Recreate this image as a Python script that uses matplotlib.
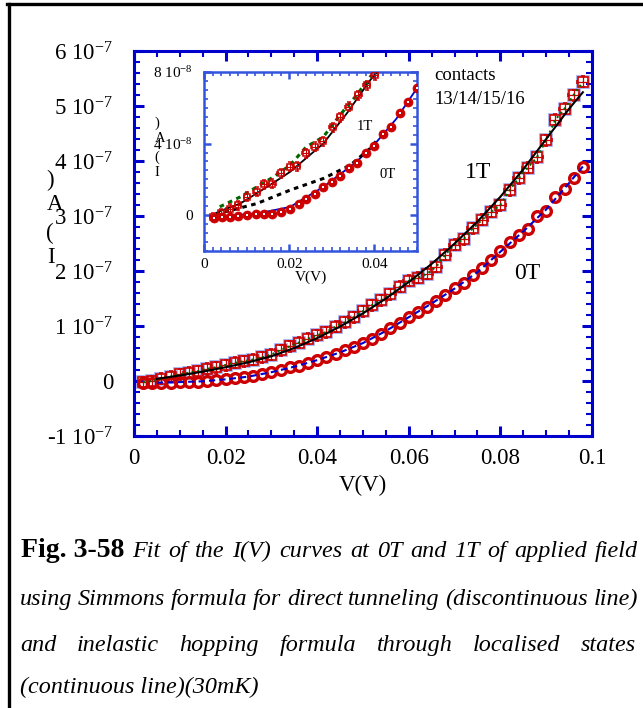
import matplotlib
matplotlib.use('Agg')
import numpy as np
import matplotlib.pyplot as plt
from matplotlib.ticker import MultipleLocator
from matplotlib.lines import Line2D

plt.rcParams['font.family'] = ['Liberation Serif', 'DejaVu Serif']
plt.rcParams['mathtext.fontset'] = 'custom'
plt.rcParams['mathtext.rm'] = 'Liberation Serif'
plt.rcParams['mathtext.default'] = 'regular'

W, H = 643, 708
RED = '#cc0000'
BLUE = '#0000cc'
LBLUE = '#3355dd'
GREEN = '#006600'

# ---- main panel, current in units of 1e-7 A
v_data = [0.002, 0.004, 0.006, 0.008, 0.010, 0.012, 0.014, 0.016, 0.018, 0.020,
          0.022, 0.024, 0.026, 0.028, 0.030, 0.032, 0.034, 0.036, 0.038, 0.040,
          0.042, 0.044, 0.046, 0.048, 0.050, 0.052, 0.054, 0.056, 0.058, 0.060,
          0.062, 0.064, 0.066, 0.068, 0.070, 0.072, 0.074, 0.076, 0.078, 0.080,
          0.082, 0.084, 0.086, 0.088, 0.090, 0.092, 0.094, 0.096, 0.098]
i_1t = [-0.02, 0.00, 0.04, 0.08, 0.12, 0.15, 0.18, 0.22, 0.25, 0.29,
        0.33, 0.36, 0.39, 0.43, 0.48, 0.56, 0.63, 0.70, 0.77, 0.83,
        0.89, 0.99, 1.07, 1.16, 1.27, 1.38, 1.47, 1.58, 1.71, 1.82,
        1.88, 1.95, 2.08, 2.30, 2.48, 2.58, 2.78, 2.93, 3.08, 3.20,
        3.47, 3.69, 3.88, 4.07, 4.38, 4.75, 4.95, 5.20, 5.44]
i_0t = [-0.04, -0.04, -0.03, -0.03, -0.02, -0.02, -0.01, 0.00, 0.01, 0.03,
        0.05, 0.07, 0.09, 0.13, 0.17, 0.20, 0.25, 0.28, 0.33, 0.38,
        0.44, 0.49, 0.56, 0.62, 0.69, 0.77, 0.86, 0.96, 1.06, 1.16,
        1.26, 1.35, 1.45, 1.56, 1.69, 1.79, 1.92, 2.05, 2.20, 2.36,
        2.53, 2.66, 2.76, 3.00, 3.10, 3.35, 3.50, 3.69, 3.89]
v_fit = [0.005, 0.01, 0.015, 0.02, 0.025, 0.03, 0.035, 0.04, 0.045, 0.05,
         0.055, 0.06, 0.065, 0.07, 0.075, 0.08, 0.085, 0.09, 0.095, 0.098]
fit_1t = [0.04, 0.10, 0.17, 0.25, 0.34, 0.45, 0.60, 0.78, 0.99, 1.23,
          1.50, 1.80, 2.13, 2.50, 2.90, 3.35, 3.85, 4.40, 4.95, 5.25]
fit_0t = [-0.03, -0.02, -0.005, 0.03, 0.08, 0.16, 0.26, 0.38, 0.52, 0.69,
          0.91, 1.16, 1.41, 1.68, 1.98, 2.35, 2.72, 3.12, 3.60, 3.90]

# ---- inset, current in units of 1e-8 A
vin_1t = [0.0021, 0.004, 0.006, 0.008, 0.0101, 0.0124, 0.0141, 0.016, 0.018, 0.0202,
          0.0218, 0.0239, 0.026, 0.0279, 0.0302, 0.032, 0.034, 0.0362, 0.0382, 0.0401]
iin_1t = [-0.10, 0.10, 0.35, 0.56, 1.02, 1.30, 1.73, 1.77, 2.33, 2.70,
          2.74, 3.45, 3.82, 4.13, 4.90, 5.46, 6.05, 6.70, 7.26, 7.82]
vin_green = [0.0037, 0.0085, 0.0124, 0.0163, 0.0202, 0.024, 0.028, 0.0319, 0.0358, 0.0393]
iin_green = [0.47, 1.02, 1.58, 2.14, 2.79, 3.82, 4.37, 5.59, 6.70, 7.82]
vin_fit1 = [0.0033, 0.0085, 0.0148, 0.0202, 0.028, 0.0335, 0.039, 0.041]
iin_fit1 = [0.19, 0.65, 1.58, 2.42, 4.00, 5.68, 7.54, 8.10]
vin_0t = [0.0023, 0.0043, 0.006, 0.008, 0.0101, 0.0123, 0.0141, 0.016, 0.018, 0.0202,
          0.0222, 0.024, 0.026, 0.028, 0.030, 0.032, 0.034, 0.036, 0.038, 0.040,
          0.042, 0.044, 0.046, 0.048, 0.050]
iin_0t = [-0.13, -0.10, -0.10, -0.04, 0.00, 0.06, 0.09, 0.09, 0.19, 0.37,
          0.65, 0.88, 1.17, 1.58, 1.86, 2.18, 2.61, 2.92, 3.45, 3.85,
          4.52, 4.93, 5.72, 6.33, 7.11]
vin_dash0 = [0.0027, 0.005, 0.0124, 0.0202, 0.028, 0.0343, 0.039, 0.041]
iin_dash0 = [0.09, 0.19, 0.65, 1.40, 2.05, 2.79, 3.73, 4.30]
vin_fit0 = [0.0016, 0.0124, 0.0202, 0.028, 0.0358, 0.0405, 0.0452, 0.0502]
iin_fit0 = [-0.10, 0.09, 0.46, 1.58, 2.98, 4.09, 5.40, 7.17]

yt_main = [-1, 0, 1, 2, 3, 4, 5, 6]
yt_in = [0, 4, 8]

fig = plt.figure(figsize=(W / 100, H / 100), dpi=100)


def box(x0, y0, x1, y1):
    return [x0 / W, 1 - y1 / H, (x1 - x0) / W, (y1 - y0) / H]


def style_axes(ax, color, lw, maj, mino):
    for s in ax.spines.values():
        s.set_color(color)
        s.set_linewidth(lw)
    ax.tick_params(which='both', direction='in', top=True, right=True, color=color)
    ax.tick_params(which='major', length=maj[0], width=maj[1])
    ax.tick_params(which='minor', length=mino[0], width=mino[1])


# main axes
ax = fig.add_axes(box(134, 51, 592, 436))
v = np.array(v_data)
ax.plot(v_fit, np.array(fit_0t) * 1e-7, color=BLUE, lw=1.5, ls=(0, (3, 2)), zorder=3)
ax.plot(v, np.array(i_0t) * 1e-7, 'o', ms=7, mfc='none', mec=RED, mew=2.4, zorder=2)
ax.plot(v, np.array(i_1t) * 1e-7, 's', ms=8, mfc='none', mec='#a0a8ee', mew=1.2, zorder=1)
ax.errorbar(v, np.array(i_1t) * 1e-7, xerr=0.0012, yerr=0.1e-7, fmt='s', ms=6.5,
            mfc='none', mec=RED, mew=1.2, ecolor=RED, elinewidth=0.9, capsize=1.5, zorder=2)
ax.plot(v, np.array(i_1t) * 1e-7, ':', color=GREEN, lw=1.5, zorder=3)
ax.plot(v_fit, np.array(fit_1t) * 1e-7, '-', color='black', lw=1.5, zorder=4)

ax.set_xlim(0, 0.1)
ax.set_ylim(-1e-7, 6e-7)
ax.set_xticks([0, 0.02, 0.04, 0.06, 0.08, 0.1], ['0', '0.02', '0.04', '0.06', '0.08', '0.1'])
ax.set_yticks([t * 1e-7 for t in yt_main],
              ['0' if t == 0 else '%d 10$^{-7}$' % t for t in yt_main])
ax.xaxis.set_minor_locator(MultipleLocator(0.005))
ax.yaxis.set_minor_locator(MultipleLocator(0.2e-7))
style_axes(ax, BLUE, 2.2, (7, 2.2), (4, 1.5))
ax.tick_params(axis='y', which='major', pad=15, labelsize=16.5)
ax.tick_params(axis='x', which='major', pad=9, labelsize=16.5)
ax.set_xlabel('V(V)', fontsize=16.5, labelpad=4)

ax.text(478 / W, 1 - 172 / H, '1T', transform=fig.transFigure, fontsize=17, ha='center', va='center')
ax.text(527 / W, 1 - 274 / H, '0T', transform=fig.transFigure, fontsize=17, ha='center', va='center')
fig.text(434 / W, 1 - 75 / H, 'contacts', fontsize=13.5, ha='left', va='center')
fig.text(434 / W, 1 - 99 / H, '13/14/15/16', fontsize=13.5, ha='left', va='center')

for ch, (px, py) in zip(')A(I', [(50, 180), (55, 204), (50, 233), (51, 257)]):
    fig.text(px / W, 1 - py / H, ch, fontsize=16.5, ha='center', va='center')

# inset
axi = fig.add_axes(box(204, 72, 417, 251))
axi.set_facecolor('white')
axi.plot(vin_fit0, np.array(iin_fit0) * 1e-8, '-', color=BLUE, lw=1.3, zorder=2)
axi.plot(vin_dash0, np.array(iin_dash0) * 1e-8, ls=(0, (1.5, 1.5)), color='black', lw=2.2, zorder=3)
axi.plot(vin_0t, np.array(iin_0t) * 1e-8, 'o', ms=6.5, mfc=RED, mec=RED, mew=0.5, zorder=4)
axi.plot(vin_0t, np.array(iin_0t) * 1e-8, 's', ms=1.6, mfc='white', mec='white', mew=0, zorder=5)
axi.plot(vin_green, np.array(iin_green) * 1e-8, ls=(0, (1.5, 1.5)), color=GREEN, lw=2.2, zorder=2)
axi.plot(vin_fit1, np.array(iin_fit1) * 1e-8, '-', color='black', lw=1.3, zorder=3)
axi.errorbar(vin_1t, np.array(iin_1t) * 1e-8, xerr=0.0008, yerr=0.25e-8, fmt='s', ms=5,
             mfc='none', mec=RED, mew=1.1, ecolor=RED, elinewidth=0.8, capsize=1.2, zorder=4)
axi.set_xlim(0, 0.05)
axi.set_ylim(-2e-8, 8e-8)
axi.set_xticks([0, 0.02, 0.04], ['0', '0.02', '0.04'])
axi.set_yticks([t * 1e-8 for t in yt_in],
               ['0' if t == 0 else '%d 10$^{-8}$' % t for t in yt_in])
axi.xaxis.set_minor_locator(MultipleLocator(0.002))
axi.yaxis.set_minor_locator(MultipleLocator(0.5e-8))
style_axes(axi, LBLUE, 1.8, (5, 1.8), (3, 1.2))
axi.tick_params(axis='both', which='major', labelsize=11)
axi.tick_params(axis='y', which='major', pad=8)
axi.tick_params(axis='x', which='major', pad=5)
axi.set_xlabel('V(V)', fontsize=11, labelpad=0)
axi.text(365 / W, 1 - 126 / H, '1T', transform=fig.transFigure, fontsize=10.5, ha='center', va='center')
axi.text(388 / W, 1 - 175 / H, '0T', transform=fig.transFigure, fontsize=10.5, ha='center', va='center')
for ch, (px, py) in zip(')A(I', [(157, 123), (160, 138), (157, 157), (157, 172)]):
    fig.text(px / W, 1 - py / H, ch, fontsize=10.5, ha='center', va='center')

# frame lines of the figure page
fig.add_artist(Line2D([8.5 / W, 8.5 / W], [0, 1 - 3.5 / H], transform=fig.transFigure,
                      color='black', lw=2.4))
fig.add_artist(Line2D([7 / W, 1], [1 - 3.5 / H, 1 - 3.5 / H], transform=fig.transFigure,
                      color='black', lw=2.4))

# caption, justified like the source page
renderer = fig.canvas.get_renderer()
CAP = 17.4


def justify(text, x0, x1, base):
    words = text.split()
    ts = [fig.text(0, 1 - base / H, w, fontsize=CAP, style='italic', va='baseline') for w in words]
    widths = [t.get_window_extent(renderer).width for t in ts]
    gap = (x1 - x0 - sum(widths)) / max(len(words) - 1, 1)
    x = x0
    for t, w in zip(ts, widths):
        t.set_x(x / W)
        x += w + gap


fig.text(21 / W, 1 - 557 / H, 'Fig. 3-58', fontsize=20, fontweight='bold', va='baseline')
justify('Fit of the I(V) curves at 0T and 1T of applied field', 132, 638, 557)
justify('using Simmons formula for direct tunneling (discontinuous line)', 20, 638, 605)
justify('and inelastic hopping formula through localised states', 20, 636, 651)
fig.text(20 / W, 1 - 693 / H, '(continuous line)(30mK)', fontsize=CAP, style='italic', va='baseline')

fig.savefig('out.png', dpi=100)
